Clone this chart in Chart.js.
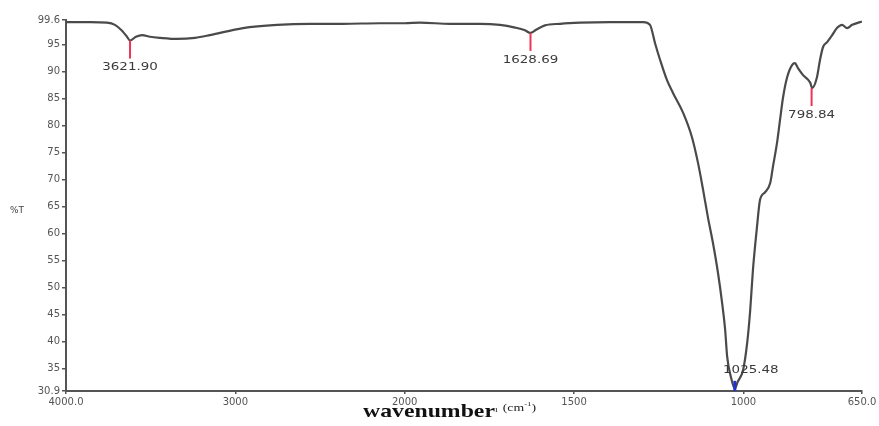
<!DOCTYPE html>
<html>
<head>
<meta charset="utf-8">
<script src="https://cdn.jsdelivr.net/npm/chart.js@4.4.1/dist/chart.umd.min.js"></script>
<style>
  html, body { margin: 0; padding: 0; background: #fff; }
  #wrap { position: relative; width: 879px; height: 426px; overflow: hidden; }
  #c { position: absolute; left: 0; top: 0; }
  #ytitle { position: absolute; left: 10px; top: 205px; font: 9px "DejaVu Sans", sans-serif; color: #444; }
  #xtitle { position: absolute; left: 363px; top: 400px; white-space: nowrap; font-family: "Liberation Serif", "Times New Roman", serif; color: #111; transform: scaleX(1.25); transform-origin: left top; }
  #xtitle b { font-size: 19px; }
  #xtitle .s { font-size: 8px; vertical-align: 5px; color: #333; }
  #xtitle .u { font-size: 11px; vertical-align: 6px; color: #222; }
</style>
</head>
<body>
<div id="wrap">
  <canvas id="c" width="879" height="426"></canvas>
  <div id="ytitle">%T</div>
  <div id="xtitle"><b>wavenumber</b><span class="s">ı</span> <span class="u">(cm<sup style="font-size:7px">-1</sup>)</span></div>
</div>
<script>
// ---- data ----
const wavenumber = [
  4000, 3858, 3758, 3711, 3669, 3640, 3622, 3587, 3551, 3504, 3445, 3345, 3238, 3150, 2955, 2754, 2559, 2364, 2146, 2000,
  1955, 1866, 1778, 1719, 1674, 1645, 1629, 1612, 1586, 1541, 1482, 1394, 1296, 1276, 1261, 1246, 1226, 1208, 1178, 1152,
  1134, 1119, 1105, 1090, 1075, 1063, 1054, 1048, 1037, 1025.5, 1017, 1001, 989, 980, 972, 960, 951, 936, 921, 913, 901,
  892, 883, 871, 856, 848, 839, 824, 803, 797, 783, 774, 765, 753, 738, 724, 709, 694, 679, 656, 650
];
const transmittance = [
  99.2, 99.2, 99.1, 98.7, 97.6, 96.5, 95.8, 96.5, 96.8, 96.5, 96.3, 96.1, 96.3, 96.8, 98.1, 98.7, 98.9, 98.9, 99.0, 99.0,
  99.1, 98.9, 98.9, 98.7, 98.2, 97.7, 97.2, 97.8, 98.6, 98.9, 99.1, 99.2, 99.2, 98.7, 95.3, 92.2, 88.5, 86.1, 82.4, 77.9,
  73.1, 68.1, 63.1, 58.3, 52.7, 47.2, 42.2, 37.2, 33.5, 31.3, 32.6, 34.8, 39.8, 45.9, 53.3, 61.3, 66.3, 67.7, 69.4, 72.4, 76.8,
  81.1, 85.3, 89.0, 91.3, 91.6, 90.7, 89.4, 88.0, 87.0, 89.0, 92.2, 94.6, 95.5, 96.8, 98.1, 98.7, 98.1, 98.7, 99.2, 99.3
];
const xTickValues = [4000, 3000, 2000, 1500, 1000, 650];
const xTickLabels = ['4000.0', '3000', '2000', '1500', '1000', '650.0'];
const yTickValues = [30.9, 35, 40, 45, 50, 55, 60, 65, 70, 75, 80, 85, 90, 95, 99.6];
const yTickLabels = ['30.9', '35', '40', '45', '50', '55', '60', '65', '70', '75', '80', '85', '90', '95', '99.6'];
const peakWavenumbers = [3621.90, 1628.69, 1025.48, 798.84];
const peakTransmittance = [95.8, 97.2, 31.3, 87.0];
const peakLabels = ['3621.90', '1628.69', '1025.48', '798.84'];

// FTIR axis: 4000-2000 drawn at half the scale of 2000-650
function toAxis(w) { return w >= 2000 ? (4000 - w) / 2 : 1000 + (2000 - w); }

const points = wavenumber.map((w, i) => ({ x: toAxis(w), y: transmittance[i] }));

function stretchedText(ctx, text, x, y) {
  ctx.save();
  ctx.translate(x, y);
  ctx.scale(1.22, 1);
  ctx.fillText(text, 0, 0);
  ctx.restore();
}

const peakPlugin = {
  id: 'peaks',
  afterDatasetsDraw(chart) {
    const ctx = chart.ctx, xs = chart.scales.x, ys = chart.scales.y;
    ctx.save();
    ctx.font = '11px "DejaVu Sans", sans-serif';
    ctx.textAlign = 'center';
    ctx.textBaseline = 'middle';
    peakWavenumbers.forEach((w, i) => {
      const px = xs.getPixelForValue(toAxis(w));
      const py = ys.getPixelForValue(peakTransmittance[i]);
      if (i === 2) {
        ctx.strokeStyle = '#2233cc';
        ctx.lineWidth = 3;
        ctx.beginPath(); ctx.moveTo(px, py - 8); ctx.lineTo(px, ys.bottom); ctx.stroke();
        ctx.fillStyle = '#3a3a3a';
        stretchedText(ctx, peakLabels[i], px + 16, py - 19);
      } else {
        ctx.strokeStyle = '#ee3355';
        ctx.lineWidth = 2;
        ctx.beginPath(); ctx.moveTo(px, py); ctx.lineTo(px, py + 18); ctx.stroke();
        ctx.fillStyle = '#3a3a3a';
        stretchedText(ctx, peakLabels[i], px, py + 27);
      }
    });
    ctx.restore();
  }
};

new Chart(document.getElementById('c'), {
  type: 'line',
  data: {
    datasets: [{
      data: points,
      borderColor: '#4a4a4a',
      borderWidth: 2.2,
      pointRadius: 0,
      fill: false,
      cubicInterpolationMode: 'monotone'
    }]
  },
  options: {
    responsive: false,
    animation: false,
    layout: { padding: { top: 20, right: 17, left: 0, bottom: 0 } },
    plugins: { legend: { display: false }, tooltip: { enabled: false } },
    scales: {
      x: {
        type: 'linear',
        min: 0,
        max: toAxis(650),
        afterBuildTicks(scale) { scale.ticks = xTickValues.map(w => ({ value: toAxis(w) })); },
        afterFit(scale) { scale.height = 35; },
        ticks: {
          autoSkip: false, maxRotation: 0, padding: 2,
          color: '#555',
          font: { family: 'DejaVu Sans', size: 10 },
          callback(v, idx) { return xTickLabels[idx]; }
        },
        grid: { display: true, drawOnChartArea: false, drawTicks: true, tickLength: 3, color: '#555', lineWidth: 1.5 },
        border: { display: true, color: '#555', width: 2 }
      },
      y: {
        type: 'linear',
        min: 30.9,
        max: 99.6,
        afterBuildTicks(scale) { scale.ticks = yTickValues.map(v => ({ value: v })); },
        afterFit(scale) { scale.width = 66; },
        ticks: {
          autoSkip: false, padding: 2,
          color: '#555',
          font: { family: 'DejaVu Sans', size: 10 },
          callback(v, idx) { return yTickLabels[idx]; }
        },
        grid: { display: true, drawOnChartArea: false, drawTicks: true, tickLength: 4, color: '#555', lineWidth: 1.5 },
        border: { display: true, color: '#555', width: 2 }
      }
    }
  },
  plugins: [peakPlugin]
});
</script>
</body>
</html>
